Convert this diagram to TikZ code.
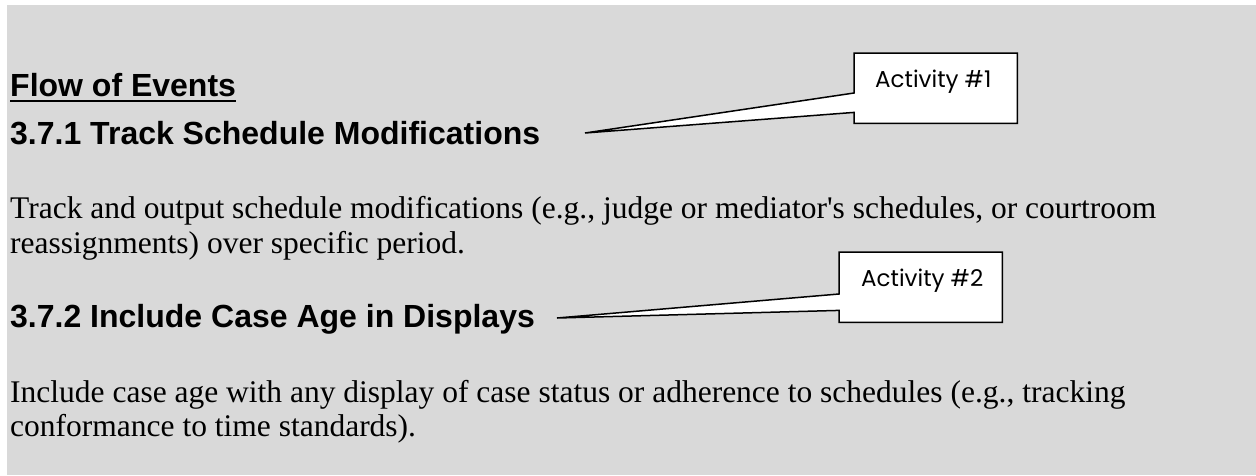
\documentclass[tikz,border=0pt]{standalone}
\usepackage{fontspec}
\setmainfont{Liberation Serif}
\newfontfamily\headfont{Liberation Sans}
\newfontfamily\boxfont{Poppins}
\usetikzlibrary{backgrounds}
\definecolor{bggrey}{HTML}{D9D9D9}
\begin{document}
\begin{tikzpicture}[x=1pt,y=-1pt,
  head/.style={anchor=base west,inner sep=0pt,font=\headfont\bfseries\fontsize{32}{36}\selectfont},
  body/.style={anchor=base west,inner sep=0pt,font=\fontsize{31.5}{35}\selectfont},
  actbox/.style={anchor=north west,inner sep=0pt,minimum width=163pt,minimum height=70pt},
  acttext/.style={anchor=base west,inner sep=0pt,font=\boxfont\fontsize{23}{28}\selectfont},
  callout/.style={draw=black,fill=white,line width=1.5pt,line join=miter}]
\useasboundingbox (0,0) rectangle (1256,475);
% texts
\node[head] (flow) at (10,96) {Flow of Events};
\draw[line width=2.6pt] ([yshift=-5pt]flow.base west) -- ([yshift=-5pt]flow.base east);
\node[head] (h1) at (10,144) {3.7.1 Track Schedule Modifications};
\node[body] (b1a) at (10,218) {Track and output schedule modifications (e.g., judge or mediator\textquotesingle s schedules, or courtroom};
\node[body] (b1b) at (10,253) {reassignments) over specific period.};
\node[head] (h2) at (10,327) {3.7.2 Include Case Age in Displays};
\node[body] (b2a) at (10,402) {Include case age with any display of case status or adherence to schedules (e.g., tracking};
\node[body] (b2b) at (10,436) {conformance to time standards).};
% callout boxes
\node[actbox] (act1) at (854,53) {};
\node[acttext] (act1t) at (875,87) {Activity \#1};
\coordinate (tip1) at (585,133);
\node[actbox] (act2) at (839,252) {};
\node[acttext] (act2t) at (861,286) {Activity \#2};
\coordinate (tip2) at (557,318);
\begin{scope}[on background layer]
\fill[bggrey] (7,5) rectangle (1256,475);
\draw[callout] (act1.north west) -- (act1.north east) -- (act1.south east) -- (act1.south west)
  -- ([yshift=11pt]act1.south west) -- (tip1) -- ([yshift=-40pt]act1.north west) -- cycle;
\draw[callout] (act2.north west) -- (act2.north east) -- (act2.south east) -- (act2.south west)
  -- ([yshift=12pt]act2.south west) -- (tip2) -- ([yshift=-42pt]act2.north west) -- cycle;
\end{scope}
\end{tikzpicture}
\end{document}
